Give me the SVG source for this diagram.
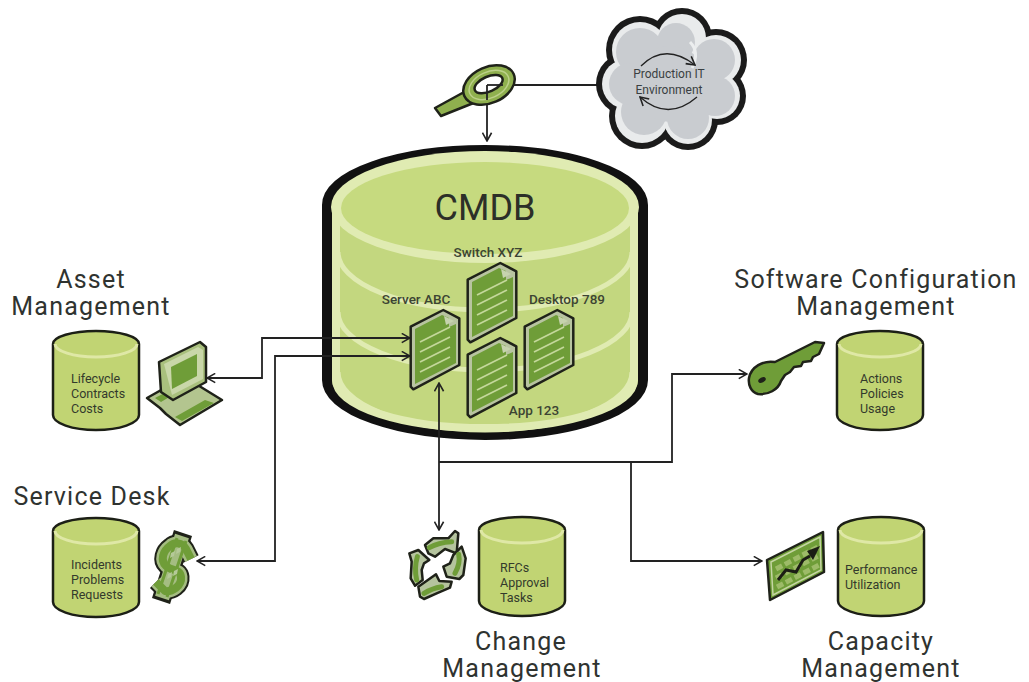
<svg xmlns="http://www.w3.org/2000/svg" width="1029" height="682" viewBox="0 0 1029 682">
<style>
.t{font-family:"Roboto","Liberation Sans",sans-serif;fill:#333a2c}
.title{font-size:25px;text-anchor:middle;letter-spacing:1.2px;fill:#2f3330}
.small{font-size:12.5px}
.doc{font-size:13.5px;font-weight:500;text-anchor:middle;fill:#3c4433}
.cl{font-size:12px;text-anchor:middle;fill:#3a3f42}
.c{fill:none;stroke:#222;stroke-width:1.8}
.cyl{fill:#c1d473;stroke:#1c1f16;stroke-width:2.5}
.rim{fill:none;stroke:#dfe8a6;stroke-width:3}
.band{fill:none;stroke:#e0ebb2;stroke-width:5}
.ol{stroke:#1f2219;stroke-width:2.5;stroke-linejoin:round}
.rc{fill:#b5c49e;stroke:#1f2219;stroke-width:7.5;stroke-linejoin:round}
.rg{fill:none;stroke:#6f9d38;stroke-width:15;stroke-linecap:round}
</style>
<defs>
<marker id="a" viewBox="0 0 12 12" refX="11" refY="6" markerWidth="11" markerHeight="11" markerUnits="userSpaceOnUse" orient="auto-start-reverse">
<path d="M2,1 L11,6 L2,11" fill="none" stroke="#222" stroke-width="1.7"/>
</marker>
<path id="s" d="M191,559 L186,549 C182,542 174,542 170,546 C163,551 160,560 166,566 C172,572 180,568 181,577 C182,586 172,592 165,591 L156,582"/>
<g id="smallcyl">
<path class="cyl" d="M0,13 A43,13 0 0 1 86,13 V84 A43,15 0 0 1 0,84 Z"/>
<path class="rim" d="M2,13 A41,13 0 0 0 84,13"/>
</g>
<g id="page">
<path class="ol" fill="#b8c4a0" d="M410.7,326.7 L443.3,310 L459.3,318.3 V365 L413.3,389.3 L410.7,386.7 Z"/>
<path fill="#6f9d38" d="M415,329 L442,315 L449,318 V327 L456,324 V363 L415,384 Z"/>
<path fill="#c6d3ae" d="M444,316 L454,321 L446,325 Z"/>
<path fill="none" stroke="#c3d79a" stroke-width="1.8" d="M420,342 L450,327 M420,352 L450,337 M420,362 L450,347 M420,372 L450,357"/>
</g>
</defs>
<rect width="1029" height="682" fill="#fff"/>
<g id="cmdb">
<path fill="#c3d77f" stroke="#111" stroke-width="10" d="M327,205 A158,55 0 0 1 643,205 V380 A158,55 0 0 1 327,380 Z"/>
<path fill="none" stroke="#e0ebb2" stroke-width="8" d="M336,208 V380 A149,48 0 0 0 634,380 V208"/>
<ellipse cx="485" cy="207" rx="154" ry="56" fill="#e0ebb2"/>
<ellipse cx="485" cy="208" rx="144" ry="46" fill="#c6da7f"/>
<path class="band" d="M338,252 A147,58 0 0 0 632,252"/>
<path class="band" d="M338,312 A147,58 0 0 0 632,312"/>
<path class="band" d="M338,372 A147,58 0 0 0 632,372"/>
<text class="t" x="485" y="220" text-anchor="middle" font-size="36" style="fill:#2c2f28">CMDB</text>
</g>
<g id="connectors">
<path class="c" d="M487,85 H602"/>
<path class="c" d="M487,85 V141" marker-end="url(#a)"/>
<path class="c" d="M207,378 H262 V338 H410" marker-start="url(#a)" marker-end="url(#a)"/>
<path class="c" d="M197,561 H275 V356 H410" marker-start="url(#a)" marker-end="url(#a)"/>
<path class="c" d="M439,383 V530" marker-start="url(#a)" marker-end="url(#a)"/>
<path class="c" d="M439,462 H672 V374 H747" marker-end="url(#a)"/>
<path class="c" d="M631,462 V561 H762" marker-end="url(#a)"/>
</g>
<g id="magnifier">
<path class="ol" fill="#8fb04e" d="M466,91 L476,102 L441,116 L435,108 Z"/>
<g transform="rotate(-24 489 85)">
<ellipse cx="489" cy="85" rx="27" ry="18" fill="#8fb04e" stroke="#1f2219" stroke-width="2.5"/>
<ellipse cx="489" cy="85" rx="21" ry="13" fill="none" stroke="#bcd08a" stroke-width="1.5"/>
<ellipse cx="489" cy="84" rx="15" ry="7.5" fill="#fff" stroke="#1f2219" stroke-width="2.5"/>
</g>
<path class="c" d="M487,85 V100"/>
<path class="c" d="M487,85 H503"/>
</g>
<g id="cloud">
<g fill="#1b1b1b">
<circle cx="640" cy="50" r="34"/><circle cx="682" cy="38" r="30"/><circle cx="716" cy="60" r="31"/><circle cx="717" cy="96" r="29"/><circle cx="688" cy="120" r="30"/><circle cx="642" cy="116" r="33"/><circle cx="627" cy="84" r="31"/>
</g>
<g fill="#e9ebec">
<circle cx="640" cy="50" r="28"/><circle cx="682" cy="38" r="24"/><circle cx="716" cy="60" r="25"/><circle cx="717" cy="96" r="23"/><circle cx="688" cy="120" r="24"/><circle cx="642" cy="116" r="27"/><circle cx="627" cy="84" r="25"/>
</g>
<g fill="#c9ccd0">
<circle cx="640" cy="52" r="24"/><circle cx="676" cy="42" r="19"/><circle cx="714" cy="60" r="21"/><circle cx="715" cy="96" r="20"/><circle cx="688" cy="118" r="21"/><circle cx="644" cy="112" r="23"/><circle cx="630" cy="84" r="21"/><circle cx="670" cy="84" r="38"/>
</g>
<path d="M690,42 Q700,52 692,68" fill="none" stroke="#eceeef" stroke-width="3"/>
<path class="c" d="M641,66 Q665,42 695,65" marker-end="url(#a)" style="stroke-width:1.3"/>
<path class="c" d="M697,97 Q668,122 640,97" marker-end="url(#a)" style="stroke-width:1.3"/>
<text class="t cl" x="669" y="78">Production IT</text>
<text class="t cl" x="669" y="94">Environment</text>
</g>
<g id="docs">
<g id="doc-server"><use href="#page"/><text class="t doc" x="416" y="304">Server ABC</text></g>
<g id="doc-switch"><use href="#page" transform="translate(57,-47)"/><text class="t doc" x="488" y="257">Switch XYZ</text></g>
<g id="doc-desktop"><use href="#page" transform="translate(114,0)"/><text class="t doc" x="567" y="304">Desktop 789</text></g>
<g id="doc-app"><use href="#page" transform="translate(57,28)"/><text class="t doc" x="534" y="415">App 123</text></g>
</g>
<g id="asset">
<text class="t title" x="91" y="288">Asset</text>
<text class="t title" x="91" y="315">Management</text>
<use href="#smallcyl" x="53" y="331"/>
<text class="t small" x="71" y="383">Lifecycle</text><text class="t small" x="71" y="398">Contracts</text><text class="t small" x="71" y="413">Costs</text>
<g id="computer">
<path class="ol" fill="#b3c58f" d="M147,398 L170,385 L196,384 L222,400 L180,425 L166,414 L160,408 Z"/>
<path fill="#6f9d38" d="M175,417 L205,400 L214,403 L182,421 Z M155,398 L172,389 L176,393 L161,402 Z"/>
<path class="ol" fill="#a9c07d" d="M159,362 L200,342 L206,347 V382 L173,400 L161,392 Z"/>
<path fill="#c9d7a9" d="M164,364 L198,347 L203,350 V379 L172,395 Z"/>
<path fill="#6f9d38" d="M171,367 L197,354 V376 L172,389 Z"/>
</g>
</g>
<g id="service">
<text class="t title" x="92" y="505">Service Desk</text>
<use href="#smallcyl" x="53" y="518"/>
<text class="t small" x="71" y="569">Incidents</text><text class="t small" x="71" y="584">Problems</text><text class="t small" x="71" y="599">Requests</text>
<g id="dollar" fill="none" stroke-linejoin="round">
<path stroke="#1f2219" stroke-width="19" d="M183,533 L161,601"/>
<use href="#s" stroke="#1f2219" stroke-width="17"/>
<path stroke="#a5bd82" stroke-width="14.5" d="M182,536 L162,598"/>
<use href="#s" stroke="#a5bd82" stroke-width="13"/>
<path stroke="#6f9d38" stroke-width="3" d="M177,538 L158,594 M186,541 L167,597"/>
<use href="#s" stroke="#6f9d38" stroke-width="8"/>
<path stroke="none" fill="#b5c998" d="M171,553 l4,-2 l-1,5 l-4,2 Z M177,549 l4,-2 l-1,5 l-4,2 Z M168,574 l4,-2 l-1,5 l-4,2 Z M174,571 l4,-2 l-1,5 l-4,2 Z"/>
</g>
</g>
<g id="change">
<text class="t title" x="521" y="650">Change</text>
<text class="t title" x="522" y="677">Management</text>
<use href="#smallcyl" x="479" y="517"/>
<text class="t small" x="500" y="572">RFCs</text><text class="t small" x="500" y="587">Approval</text><text class="t small" x="500" y="602">Tasks</text>
<g id="recycle" transform="translate(400,525) scale(.3333)">
<path class="rc" d="M75,60 L100,40 L145,40 L165,18 L175,25 L170,85 L135,72 L105,95 L85,85 Z"/>
<path class="rg" d="M88,68 Q115,52 155,50"/>
<path class="rc" d="M185,65 L197,100 L190,150 L178,162 L140,155 L130,125 L150,115 L160,90 Z"/>
<path class="rg" d="M176,88 Q182,115 165,145"/>
<path class="rc" d="M108,148 L118,168 L155,170 L150,188 L110,205 L72,222 L60,215 L55,185 Z"/>
<path class="rg" d="M125,185 Q95,190 72,205"/>
<path class="rc" d="M28,85 L55,75 L88,105 L72,115 L65,135 L68,165 L45,182 L32,160 L35,110 Z"/>
<path class="rg" d="M52,95 Q42,130 50,165"/>
</g>
</g>
<g id="software">
<text class="t title" x="876" y="288">Software Configuration</text>
<text class="t title" x="876" y="315">Management</text>
<use href="#smallcyl" x="837" y="331"/>
<text class="t small" x="860" y="383">Actions</text><text class="t small" x="860" y="398">Policies</text><text class="t small" x="860" y="413">Usage</text>
<g id="key">
<path class="ol" fill="#6f9d38" d="M749,378 C751,367 763,360 775,362 L815,342 L824,343 L819,354 L813,357 L811,361 L803,362 L801,366 L794,367 L790,372 L785,375 L781,381 C778,390 768,395 758,394 C751,392 748,385 749,378 Z"/>
<ellipse cx="762" cy="380" rx="4" ry="2.5" transform="rotate(-25 762 380)" fill="#1f2219"/>
</g>
</g>
<g id="capacity">
<text class="t title" x="881" y="650">Capacity</text>
<text class="t title" x="881" y="677">Management</text>
<use href="#smallcyl" x="838" y="517"/>
<text class="t small" x="845" y="574">Performance</text><text class="t small" x="845" y="589">Utilization</text>
<g id="chart">
<path class="ol" fill="#6f9d38" d="M767,560 L823,532 L824,572 L770,600 Z"/>
<path fill="none" stroke="#c5d5a3" stroke-width="1.5" d="M771,562 L820,537 L821,570 L773,595 Z"/>
<path fill="none" stroke="#9dbb68" stroke-width="5" stroke-dasharray="7 3" d="M776,569 L818,547 M776,578 L818,556 M777,587 L819,565"/>
<path fill="none" stroke="#1b1d14" stroke-width="3" d="M778,580 L786,570 L796,572 L803,560 L810,556"/>
<path fill="#1b1d14" d="M807,551 L820,546 L813,560 Z"/>
</g>
</g>
</svg>
